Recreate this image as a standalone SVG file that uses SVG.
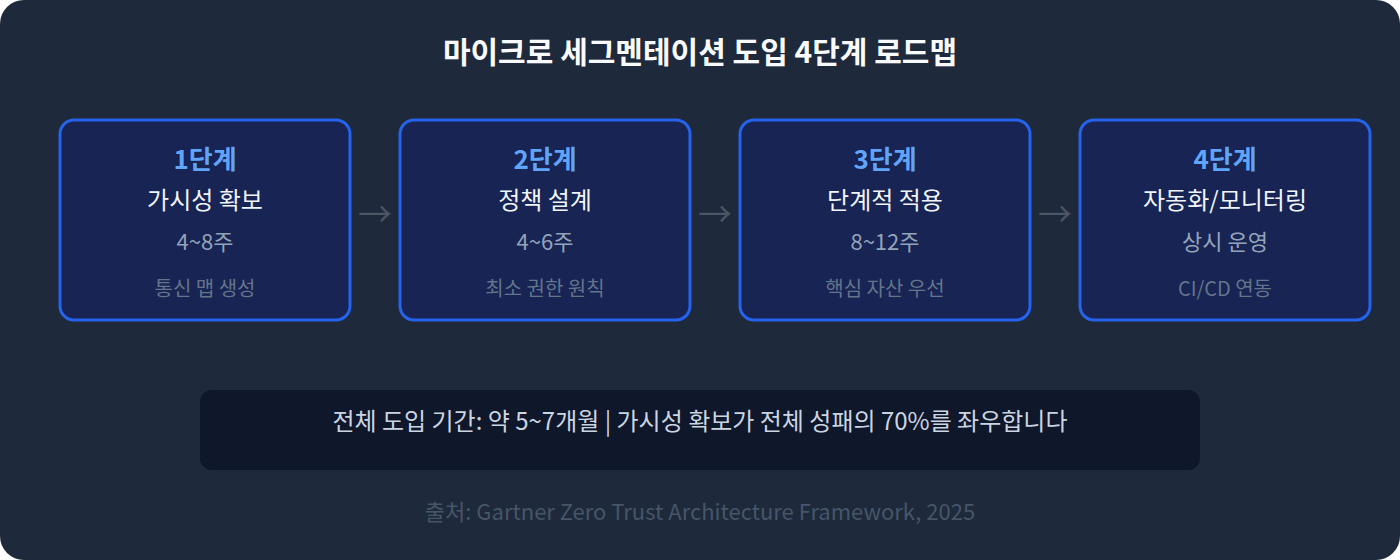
<svg xmlns="http://www.w3.org/2000/svg" width="1400" height="560" viewBox="0 0 1400 560">
<style>
text{font-family:"Noto Sans CJK KR","Noto Sans",sans-serif;text-anchor:middle}
.box{fill:#172454;stroke:#2563eb;stroke-width:3}
.st{font-size:26px;font-weight:bold;fill:#60a5fa}
.nm{font-size:24px;fill:#f1f5f9}
.du{font-size:22px;fill:#94a3b8}
.de{font-size:20px;fill:#64748b}
.ar{font-size:34px;fill:#4b5563}
</style>
<rect x="0" y="0" width="1400" height="560" rx="24" fill="#1e293b"/>
<text x="700" y="63" font-size="30" font-weight="bold" fill="#f8fafc">마이크로 세그멘테이션 도입 4단계 로드맵</text>
<g id="step1"><rect class="box" x="60" y="120" width="290" height="200" rx="14"/>
<text class="st" x="205" y="169">1단계</text><text class="nm" x="205" y="209">가시성 확보</text><text class="du" x="205" y="250">4~8주</text><text class="de" x="205" y="296">통신 맵 생성</text></g>
<g id="step2"><rect class="box" x="400" y="120" width="290" height="200" rx="14"/>
<text class="st" x="545" y="169">2단계</text><text class="nm" x="545" y="209">정책 설계</text><text class="du" x="545" y="250">4~6주</text><text class="de" x="545" y="296">최소 권한 원칙</text></g>
<g id="step3"><rect class="box" x="740" y="120" width="290" height="200" rx="14"/>
<text class="st" x="885" y="169">3단계</text><text class="nm" x="885" y="209">단계적 적용</text><text class="du" x="885" y="250">8~12주</text><text class="de" x="885" y="296">핵심 자산 우선</text></g>
<g id="step4"><rect class="box" x="1080" y="120" width="290" height="200" rx="14"/>
<text class="st" x="1225" y="169">4단계</text><text class="nm" x="1225" y="209">자동화/모니터링</text><text class="du" x="1225" y="250">상시 운영</text><text class="de" x="1225" y="296">CI/CD 연동</text></g>
<g id="connectors">
<text class="ar" x="375" y="227">→</text><text class="ar" x="715" y="227">→</text><text class="ar" x="1055" y="227">→</text>
</g>
<g id="summary"><rect x="200" y="390" width="1000" height="80" rx="12" fill="#0f172a"/>
<text x="700" y="430" font-size="24" fill="#cbd5e1">전체 도입 기간: 약 5~7개월 | 가시성 확보가 전체 성패의 70%를 좌우합니다</text></g>
<text x="700" y="520" font-size="22" fill="#475569">출처: Gartner Zero Trust Architecture Framework, 2025</text>
</svg>
